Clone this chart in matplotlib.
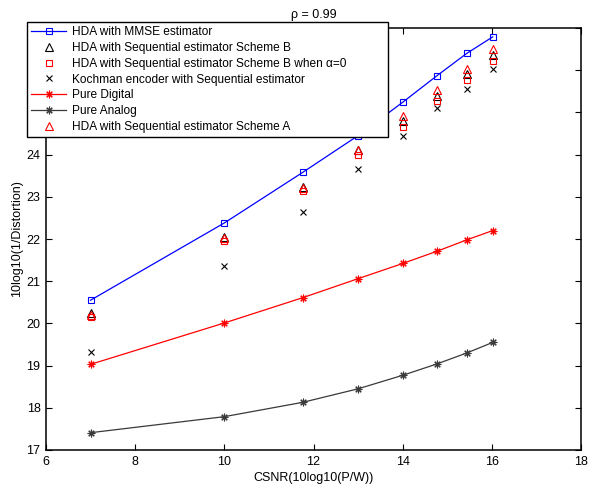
import matplotlib
matplotlib.use("Agg")
import matplotlib.pyplot as plt

plt.rcParams['font.family'] = ['Liberation Sans', 'DejaVu Sans']
plt.rcParams['font.size'] = 8.6

# CSNR in dB (10log10 of P/W = 5, 10, ..., 40)
csnr = [7, 10, 11.76, 13, 14, 14.77, 15.44, 16.02]

hda_mmse = [20.55, 22.38, 23.58, 24.45, 25.24, 25.87, 26.40, 26.79]
hda_seq_b = [20.24, 22.05, 23.23, 24.12, 24.80, 25.40, 25.90, 26.35]
hda_seq_b_alpha0 = [20.14, 21.95, 23.13, 23.98, 24.66, 25.27, 25.76, 26.21]
kochman_seq = [19.32, 21.36, 22.63, 23.67, 24.45, 25.10, 25.55, 26.03]
pure_digital = [19.03, 20.01, 20.61, 21.06, 21.42, 21.71, 21.98, 22.20]
pure_analog = [17.41, 17.79, 18.13, 18.45, 18.77, 19.04, 19.30, 19.55]
hda_seq_a = [20.20, 22.02, 23.20, 24.10, 24.92, 25.52, 26.03, 26.51]

xticks = [6, 8, 10, 12, 14, 16, 18]
yticks = [17, 18, 19, 20, 21, 22, 23, 24, 25, 26, 27]

fig = plt.figure(figsize=(5.90, 4.87), dpi=100)
ax = fig.add_axes([46 / 590, 1 - 450 / 487, 535 / 590, 422 / 487])

gray = '#3a3a3a'
asterisk = (8, 2, 0)
ax.plot(csnr, hda_mmse, color='blue', lw=0.9, marker='s', ms=4.2,
        mfc='none', mec='blue', mew=0.8, label='HDA with MMSE estimator')
ax.plot(csnr, hda_seq_b, ls='none', marker='^', ms=6, mfc='none',
        mec='black', mew=0.8, label='HDA with Sequential estimator Scheme B')
ax.plot(csnr, hda_seq_b_alpha0, ls='none', marker='s', ms=4.2, mfc='none',
        mec='red', mew=0.8,
        label='HDA with Sequential estimator Scheme B when α=0')
ax.plot(csnr, kochman_seq, ls='none', marker='x', ms=3.8, mec='black',
        mew=0.8, label='Kochman encoder with Sequential estimator')
ax.plot(csnr, pure_digital, color='red', lw=0.9, marker=asterisk, ms=5.5,
        mec='red', mew=0.8, label='Pure Digital')
ax.plot(csnr, pure_analog, color=gray, lw=0.9, marker=asterisk, ms=5.5,
        mec=gray, mew=0.8, label='Pure Analog')
ax.plot(csnr, hda_seq_a, ls='none', marker='^', ms=6, mfc='none',
        mec='red', mew=0.8, label='HDA with Sequential estimator Scheme A')

ax.set_xlim(6, 18)
ax.set_ylim(17, 27)
ax.set_xticks(xticks)
ax.set_yticks(yticks, labels=[str(v) for v in yticks])
ax.tick_params(direction='in', length=4, width=0.8, top=True, right=True,
               labelsize=9, pad=4)
for sp in ax.spines.values():
    sp.set_linewidth(1.1)

ax.set_xlabel('CSNR(10log10(P/W))', fontsize=9, labelpad=3)
ax.set_ylabel('10log10(1/Distortion)', fontsize=9, labelpad=2.5)
ax.set_title('ρ = 0.99', fontsize=9, pad=7)

leg = ax.legend(loc='upper left',
                bbox_to_anchor=(27 / 590, 1 - 22 / 487, 361 / 590, 0.0),
                bbox_transform=fig.transFigure, borderaxespad=0,
                mode='expand', fancybox=False, framealpha=1,
                edgecolor='black', fontsize=8.6, handlelength=2.9,
                handletextpad=0.55, labelspacing=0.32, borderpad=0.35)
leg.get_frame().set_linewidth(1.0)

fig.savefig('out.png', dpi=100)
